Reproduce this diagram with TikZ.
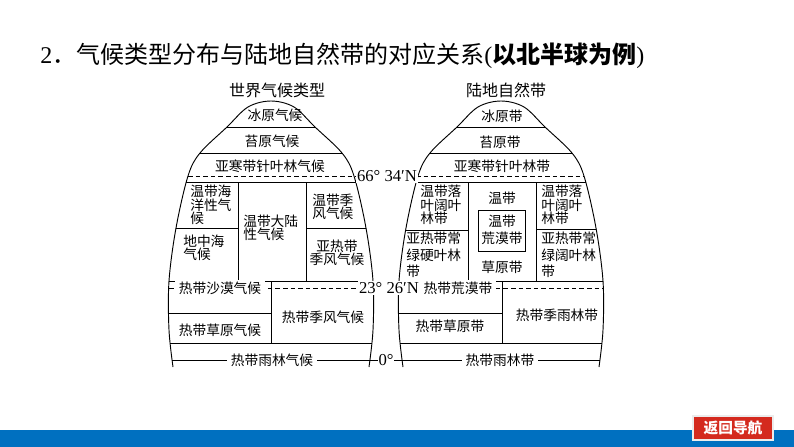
\documentclass[tikz,border=0pt]{standalone}
\usepackage{fontspec}
\setmainfont{Liberation Serif}
\newfontfamily\cjk{Noto Sans CJK SC}
\definecolor{navblue}{HTML}{0070C0}
\definecolor{navred}{HTML}{D42A1E}
\newcommand{\beltoutline}{plot[smooth,tension=0.55] coordinates {(-98,367) (-102,330) (-102,281) (-95,228) (-83,176) (-71,153) (-44,127) (-23,107) (0,101) (23,107) (44,127) (71,153) (83,176) (95,228) (102,281) (102,330) (98,367)}}

\begin{document}
\begin{tikzpicture}[x=0.75pt,y=-0.75pt,
  zonetext/.style={font=\cjk\fontsize{10.3}{10}\selectfont, inner sep=0pt, align=left},
  loosetext/.style={font=\cjk\fontsize{10.3}{12.4}\selectfont, inner sep=0pt, align=left},
  ctext/.style={zonetext, align=center},
  cover/.style={zonetext, fill=white, inner xsep=2.5pt, inner ysep=1pt},
  latlabel/.style={font=\fontsize{12.5}{14}\selectfont, fill=white, inner xsep=0.5pt, inner ysep=1pt},
  heading/.style={font=\cjk\fontsize{12}{14}\selectfont, inner sep=0pt},
  rim/.style={line width=0.7pt},
  sep/.style={line width=0.6pt},
  latline/.style={line width=0.6pt, dash pattern=on 3.5pt off 2.2pt},
]
\useasboundingbox (0,0) rectangle (794,447);

% title
\node[anchor=west, inner sep=0pt, font=\fontsize{18}{20}\selectfont] (title) at (40,56)
  {2{\cjk ．气候类型分布与陆地自然带的对应关系}({\bfseries\cjk 以北半球为例})};
\node[heading] (climhead) at (277,90) {世界气候类型};
\node[heading] (zonehead) at (506,90) {陆地自然带};

% left: climate types
\begin{scope}[shift={(271,0)}]
  \draw[rim] \beltoutline;
  \begin{scope}
    \clip \beltoutline -- cycle;
    \foreach \y in {127,153,182,281,343}
      \draw[sep] (-110,\y) -- (110,\y);
    \draw[sep] (-33,182) -- (-33,281) (35,182) -- (35,281);
    \draw[sep] (-110,228) -- (-33,228) (35,228) -- (110,228);
    \draw[sep] (0,281) -- (0,343) (-110,313) -- (0,313);
  \end{scope}
\end{scope}

% right: natural zones
\begin{scope}[shift={(501,0)}]
  \draw[rim] \beltoutline;
  \begin{scope}
    \clip \beltoutline -- cycle;
    \foreach \y in {127,153,182,281,343}
      \draw[sep] (-110,\y) -- (110,\y);
    \draw[sep] (-33,182) -- (-33,281) (35,182) -- (35,281);
    \draw[sep] (-110,230) -- (-33,230) (35,229) -- (110,229);
    \draw[sep] (1,281) -- (1,343) (-110,313) -- (1,313);
    \draw[sep] (-23,210) rectangle (24,251);
  \end{scope}
\end{scope}

% latitude lines
\coordinate (arcticL) at (188,176);
\coordinate (arcticR) at (584,176);
\coordinate (tropicL) at (169,288);
\coordinate (tropicR) at (603,288);
\coordinate (equatorL) at (172,360);
\coordinate (equatorR) at (600,360);
\draw[latline] (arcticL) -- (arcticR);
\draw[latline] (tropicL) -- (tropicR);
\draw[sep] (equatorL) -- (equatorR);

\node[latlabel] (arctic) at (387,176) {66° 34′N};
\node[latlabel] (tropic) at (389,288) {23° 26′N};
\node[latlabel] (equator) at (386,360) {0°};

% climate types
\node[ctext] (ice) at (275,115) {冰原气候};
\node[ctext] (tundra) at (272,141) {苔原气候};
\node[ctext] (subarctic) at (270,166) {亚寒带针叶林气候};
\node[zonetext, anchor=west] (maritime) at (190,205) {温带海\\洋性气\\候};
\node[zonetext, anchor=west] (mediterr) at (183,248) {地中海\\气候};
\node[zonetext, anchor=west] (continental) at (243,228) {温带大陆\\性气候};
\node[zonetext, anchor=west] (tempmonsoon) at (312,207) {温带季\\风气候};
\node[ctext] (submonsoon) at (337,253) {亚热带\\季风气候};
\node[cover] (desert) at (220,288) {热带沙漠气候};
\node[ctext] (tropmonsoon) at (323,317) {热带季风气候};
\node[ctext] (savanna) at (220,330) {热带草原气候};
\node[cover] (rainforest) at (272,360) {热带雨林气候};

% natural zones
\node[ctext] (icezone) at (502,116) {冰原带};
\node[ctext] (tundrazone) at (500,142) {苔原带};
\node[ctext] (taiga) at (502,166) {亚寒带针叶林带};
\node[zonetext, anchor=west] (deciduousL) at (420,205) {温带落\\叶阔叶\\林带};
\node[loosetext, anchor=west] (sclerophyll) at (406,255) {亚热带常\\绿硬叶林\\带};
\node[ctext] (temperate) at (502,198) {温带};
\node[loosetext, align=center] (tempdesert) at (502,230) {温带\\荒漠带};
\node[ctext] (steppe) at (502,267) {草原带};
\node[zonetext, anchor=west] (deciduousR) at (541,205) {温带落\\叶阔叶\\林带};
\node[loosetext, anchor=west] (evergreen) at (541,255) {亚热带常\\绿阔叶林\\带};
\node[cover] (desertzone) at (458,288) {热带荒漠带};
\node[ctext] (monsoonforest) at (557,315) {热带季雨林带};
\node[ctext] (savannazone) at (450,326) {热带草原带};
\node[cover] (rainzone) at (500,360) {热带雨林带};

% bottom bar
\fill[navblue] (0,430) rectangle (794,447);
\node[fill=navred, draw=white!85!gray, line width=1pt, minimum width=60pt, minimum height=18pt,
  text=white, font=\cjk\bfseries\fontsize{11}{12}\selectfont] (back) at (733,428) {返回导航};
\end{tikzpicture}
\end{document}
